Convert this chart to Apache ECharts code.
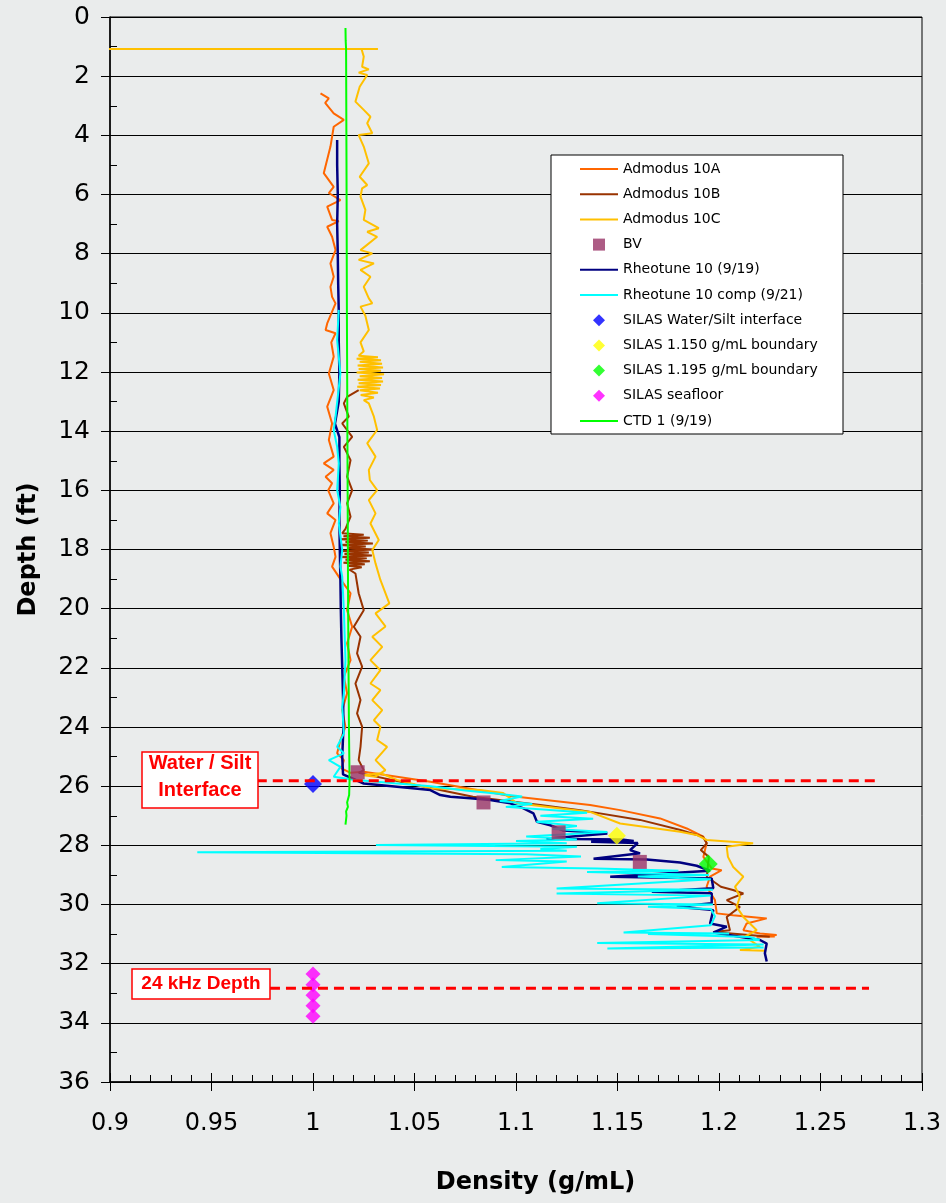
<!DOCTYPE html>
<html><head><meta charset="utf-8">
<script src="https://cdn.jsdelivr.net/npm/echarts@6/dist/echarts.min.js"></script>
<style>html,body{margin:0;padding:0;background:#eaecec}#c{width:946px;height:1203px}</style>
</head><body><div id="c"></div>
<script>
// ---- data: [density (g/mL), depth (ft)] ----
const admodus10A = [[1.0037,2.58],[1.0078,2.75],[1.0060,2.9],[1.0102,3.26],[1.0152,3.48],[1.0102,3.71],[1.0086,4.38],[1.0053,5.28],[1.0102,5.74],[1.0078,5.95],[1.0135,6.19],[1.0070,6.41],[1.0094,6.86],[1.0127,6.9],[1.0070,7.09],[1.0094,7.43],[1.0111,7.88],[1.0086,8.33],[1.0102,8.78],[1.0086,9.12],[1.0094,9.46],[1.0111,9.68],[1.0070,10.36],[1.0062,10.58],[1.0111,10.69],[1.0090,11.0],[1.0102,11.48],[1.0078,12.05],[1.0102,12.61],[1.0070,13.17],[1.0094,13.74],[1.0078,14.3],[1.0102,14.86],[1.0053,15.09],[1.0102,15.31],[1.0062,15.54],[1.0094,15.76],[1.0075,16.0],[1.0102,16.44],[1.0070,16.78],[1.0111,17.0],[1.0086,17.45],[1.0102,17.91],[1.0111,18.25],[1.0094,18.58],[1.0135,19.0],[1.0185,19.48],[1.0168,20.05],[1.0193,20.61],[1.0168,21.17],[1.0185,21.74],[1.0152,22.3],[1.0168,22.86],[1.0144,23.43],[1.0160,23.99],[1.0135,24.44],[1.0119,24.89],[1.0152,25.12],[1.0140,25.4],[1.0185,25.55],[1.0250,25.51],[1.0578,25.85],[1.0824,26.15],[1.0972,26.33],[1.1365,26.64],[1.1513,26.81],[1.1710,27.09],[1.1841,27.43],[1.1923,27.71],[1.1939,27.93],[1.1923,28.39],[1.1964,28.78],[1.2013,28.84],[1.1956,29.06],[1.1939,29.4],[1.1980,29.85],[1.1989,30.3],[1.2069,30.36],[1.2235,30.47],[1.2136,30.64],[1.2120,30.87],[1.2202,30.98],[1.2284,31.03],[1.2185,31.09],[1.2275,31.08]];

const admodus10B = [[1.0225,12.61],[1.0168,12.84],[1.0152,13.06],[1.0176,13.51],[1.0144,13.74],[1.0193,14.19],[1.0152,14.53],[1.0185,14.98],[1.0168,15.54],[1.0193,15.99],[1.0168,16.44],[1.0185,16.89],[1.0160,17.3],[1.0144,17.45],[1.0250,17.5],[1.0150,17.55],[1.0280,17.6],[1.0135,17.65],[1.0270,17.7],[1.0160,17.75],[1.0295,17.8],[1.0130,17.85],[1.0260,17.9],[1.0170,17.95],[1.0300,18.0],[1.0140,18.05],[1.0275,18.1],[1.0155,18.15],[1.0290,18.2],[1.0135,18.25],[1.0265,18.3],[1.0160,18.35],[1.0280,18.4],[1.0150,18.45],[1.0255,18.5],[1.0170,18.55],[1.0240,18.6],[1.0180,18.68],[1.0209,18.81],[1.0225,19.48],[1.0250,20.05],[1.0201,20.61],[1.0234,20.95],[1.0217,21.51],[1.0242,21.96],[1.0209,22.53],[1.0234,23.09],[1.0217,23.54],[1.0242,23.99],[1.0234,24.67],[1.0225,25.12],[1.0250,25.46],[1.0225,25.55],[1.0500,25.95],[1.0788,26.36],[1.1120,26.64],[1.1316,26.81],[1.1611,27.14],[1.1810,27.48],[1.1920,27.71],[1.1940,27.93],[1.1910,28.16],[1.1950,28.39],[1.1940,29.06],[1.2009,29.4],[1.2069,29.51],[1.2120,29.63],[1.2038,29.85],[1.2103,30.08],[1.2038,30.42],[1.2054,30.87],[1.1972,30.93],[1.2250,31.09]];

const admodus10C = [[0.897,1.08],[1.032,1.08],[1.0239,1.08],[1.0250,1.34],[1.0242,1.68],[1.0275,1.77],[1.0225,1.88],[1.0267,1.96],[1.0230,2.36],[1.0209,2.86],[1.0250,3.14],[1.0283,3.37],[1.0267,3.59],[1.0292,3.93],[1.0225,3.99],[1.0250,4.38],[1.0275,4.95],[1.0230,5.4],[1.0267,5.68],[1.0242,5.79],[1.0234,6.07],[1.0258,6.52],[1.0250,6.86],[1.0324,7.14],[1.0267,7.26],[1.0316,7.43],[1.0234,7.88],[1.0292,7.99],[1.0225,8.21],[1.0300,8.33],[1.0234,8.55],[1.0283,8.78],[1.0250,9.12],[1.0275,9.51],[1.0292,9.68],[1.0234,9.79],[1.0258,10.1],[1.0275,10.58],[1.0234,11.0],[1.0250,11.3],[1.0225,11.45],[1.0320,11.5],[1.0215,11.55],[1.0335,11.6],[1.0230,11.65],[1.0340,11.72],[1.0220,11.78],[1.0345,11.85],[1.0225,11.9],[1.0335,11.96],[1.0215,12.02],[1.0350,12.08],[1.0230,12.14],[1.0340,12.2],[1.0220,12.26],[1.0345,12.32],[1.0225,12.38],[1.0335,12.44],[1.0218,12.5],[1.0330,12.56],[1.0230,12.62],[1.0320,12.7],[1.0235,12.78],[1.0300,12.86],[1.0250,12.95],[1.0275,13.06],[1.0300,13.51],[1.0316,13.96],[1.0267,14.41],[1.0308,14.86],[1.0275,15.31],[1.0280,15.65],[1.0316,15.99],[1.0275,16.33],[1.0308,16.78],[1.0283,17.12],[1.0324,17.68],[1.0292,18.02],[1.0308,18.47],[1.0332,19.03],[1.0376,19.82],[1.0308,20.16],[1.0357,20.6],[1.0292,20.95],[1.0341,21.29],[1.0283,21.74],[1.0332,22.08],[1.0283,22.53],[1.0332,22.75],[1.0292,23.09],[1.0341,23.43],[1.0300,23.77],[1.0332,23.99],[1.0316,24.44],[1.0365,24.67],[1.0308,25.12],[1.0357,25.46],[1.0308,25.68],[1.0248,25.63],[1.0332,25.56],[1.0414,25.79],[1.0578,26.07],[1.0824,26.13],[1.0937,26.23],[1.1005,26.58],[1.1365,26.87],[1.1513,27.26],[1.1808,27.54],[1.1890,27.65],[1.1939,27.82],[1.2168,27.93],[1.2038,28.05],[1.2044,28.39],[1.2070,28.73],[1.2120,29.06],[1.2079,29.4],[1.2103,29.74],[1.2087,30.08],[1.2120,30.42],[1.2186,30.87],[1.2128,31.09],[1.2202,31.43],[1.2103,31.54],[1.2226,31.56]];

const bv = [[1.022,25.53],[1.084,26.55],[1.121,27.56],[1.161,28.56]];

const rheotune10 = [[1.0119,4.16],[1.0119,5.0],[1.0122,6.0],[1.0119,7.0],[1.0122,8.0],[1.0124,9.0],[1.0127,10.0],[1.0127,11.0],[1.0130,12.0],[1.0127,13.0],[1.0108,13.75],[1.0130,14.2],[1.0130,15.0],[1.0132,16.0],[1.0130,17.0],[1.0132,18.0],[1.0135,19.0],[1.0137,20.0],[1.0140,21.0],[1.0144,22.0],[1.0148,23.0],[1.0150,24.0],[1.0144,25.0],[1.0148,25.6],[1.0250,25.91],[1.0578,26.13],[1.0627,26.3],[1.0677,26.36],[1.0775,26.41],[1.0873,26.47],[1.0972,26.58],[1.1037,26.75],[1.1086,26.92],[1.1103,27.2],[1.1169,27.32],[1.1234,27.5],[1.1350,27.55],[1.1450,27.6],[1.1150,27.78],[1.1520,27.8],[1.1580,27.85],[1.1370,27.88],[1.1600,27.92],[1.1562,28.16],[1.1611,28.27],[1.1382,28.45],[1.1644,28.48],[1.1808,28.58],[1.1890,28.69],[1.1956,28.86],[1.1464,29.06],[1.1964,29.12],[1.1972,29.45],[1.1669,29.57],[1.1964,29.62],[1.1964,29.96],[1.1792,30.08],[1.1972,30.19],[1.1956,30.64],[1.2038,30.75],[1.1972,30.95],[1.2202,31.2],[1.2235,31.32],[1.2226,31.65],[1.2235,31.93]];

const rheotune10comp = [[1.0127,9.9],[1.0119,10.92],[1.0135,12.05],[1.0111,13.51],[1.0102,13.96],[1.0119,14.53],[1.0127,15.09],[1.0119,15.99],[1.0135,16.56],[1.0127,17.12],[1.0144,18.02],[1.0135,18.58],[1.0144,18.92],[1.0152,20.05],[1.0160,21.74],[1.0152,22.86],[1.0144,23.32],[1.0152,24.22],[1.0119,24.67],[1.0152,24.89],[1.0078,25.12],[1.0135,25.35],[1.0102,25.68],[1.0200,25.78],[1.0400,25.9],[1.0580,26.0],[1.0750,26.15],[1.0900,26.25],[1.1030,26.35],[1.0920,26.5],[1.1080,26.6],[1.0950,26.7],[1.1150,26.8],[1.1350,26.9],[1.1120,27.0],[1.1380,27.1],[1.1100,27.2],[1.1300,27.35],[1.1180,27.45],[1.1450,27.55],[1.1050,27.7],[1.1300,27.8],[1.1000,27.85],[1.1250,27.93],[1.0310,27.99],[1.1300,28.05],[1.1120,28.12],[1.1250,28.18],[0.9430,28.23],[1.1050,28.3],[1.1320,28.38],[1.0900,28.5],[1.1250,28.55],[1.0930,28.73],[1.1400,28.78],[1.1800,28.86],[1.1350,28.9],[1.1950,29.0],[1.1600,29.05],[1.1960,29.15],[1.1200,29.46],[1.1970,29.5],[1.1200,29.63],[1.1960,29.7],[1.1400,29.96],[1.1970,30.0],[1.1650,30.08],[1.1960,30.15],[1.1980,30.4],[1.1960,30.7],[1.1530,30.95],[1.2050,30.98],[1.1650,31.0],[1.2150,31.1],[1.2200,31.2],[1.1400,31.3],[1.2220,31.35],[1.1450,31.49],[1.2220,31.45]];

const silasWaterSilt = [[1.0,25.93]];
const silas1150 = [[1.1497,27.68]];
const silas1195 = [[1.1947,28.63]];
const silasSeafloor = [[1.0,32.35],[1.0,32.71],[1.0,33.07],[1.0,33.42],[1.0,33.78]];

const ctd1 = [[1.0160,0.37],[1.0161,0.8],[1.0163,1.1],[1.0165,5],[1.0167,10],[1.0170,15],[1.0173,20],[1.0177,24],[1.0180,25.8],[1.0178,26.3],[1.0168,26.55],[1.0172,26.7],[1.0163,26.85],[1.0165,27.0],[1.0160,27.3]];

const waterSiltLine = [[0.9723,25.82],[1.2795,25.82]];
const khzLine = [[0.9788,32.83],[1.2739,32.83]];

const legendNames = ['Admodus 10A','Admodus 10B','Admodus 10C','BV','Rheotune 10 (9/19)','Rheotune 10 comp (9/21)','SILAS Water/Silt interface','SILAS 1.150 g/mL boundary','SILAS 1.195 g/mL boundary','SILAS seafloor','CTD 1 (9/19)'];
const legendKinds = ['line','line','line','square','line','line','diamond','diamond','diamond','diamond','line'];
const xMin = 0.9, xMax = 1.3, xStep = 0.05;
const yMin = 0, yMax = 36, yStep = 2;

// ---- chart ----
const chart = echarts.init(document.getElementById('c'));
const tickFont = 'DejaVu Sans';
function lineS(name, data, color, width, extra) {
  return Object.assign({ name, type: 'line', data, symbol: 'none', clip: true,
    lineStyle: { color, width }, itemStyle: { color }, z: 2, animation: false }, extra || {});
}
function scatS(name, data, color, symbol, size) {
  return { name, type: 'scatter', data, symbol, symbolSize: size,
    itemStyle: { color }, z: 4, animation: false };
}
// legend icon shapes inside a 38x12 box (corner moves keep the box size)
const ICONS = {
  line: 'path://M0,0M38,12M0,5L38,5L38,7L0,7Z',
  square: 'path://M0,0M38,12M13,0L25,0L25,12L13,12Z',
  diamond: 'path://M0,0M38,12M19,0L25,6L19,12L13,6Z'
};
const series = [
  lineS('Admodus 10A', admodus10A, '#FF6600', 2),
  lineS('Admodus 10B', admodus10B, '#993300', 2),
  lineS('Admodus 10C', admodus10C, '#FFC000', 2, { clip: false }),
  lineS('Rheotune 10 (9/19)', rheotune10, '#000080', 2.5),
  lineS('Rheotune 10 comp (9/21)', rheotune10comp, '#00FFFF', 2),
  lineS('CTD 1 (9/19)', ctd1, '#00FF00', 2),
  scatS('BV', bv, '#993366', 'rect', 14),
  scatS('SILAS Water/Silt interface', silasWaterSilt, '#0000FF', 'diamond', 18),
  scatS('SILAS 1.150 g/mL boundary', silas1150, '#FFFF00', 'diamond', 18),
  scatS('SILAS 1.195 g/mL boundary', silas1195, '#00FF00', 'diamond', 19),
  scatS('SILAS seafloor', silasSeafloor, '#FF00FF', 'diamond', 15),
  { type: 'line', data: waterSiltLine, symbol: 'none', silent: true, z: 6, animation: false,
    lineStyle: { color: '#FF0000', width: 3, type: [10, 6] } },
  { type: 'line', data: khzLine, symbol: 'none', silent: true, z: 6, animation: false,
    lineStyle: { color: '#FF0000', width: 3, type: [10, 6] } }
];
const fmtX = v => String(+(+v).toFixed(2));
chart.setOption({
  backgroundColor: '#eaecec',
  animation: false,
  grid: { left: 110, right: 24, top: 17, bottom: 121, show: true, borderColor: '#000', borderWidth: 1, backgroundColor: 'transparent' },
  xAxis: [
    { type: 'value', min: xMin, max: xMax, interval: xStep, position: 'bottom',
      axisLine: { show: true, onZero: false, lineStyle: { color: '#000', width: 1.5 } },
      axisTick: { show: true, inside: true, length: 9, lineStyle: { color: '#000', width: 1 } },
      minorTick: { show: true, splitNumber: 5, length: 7, lineStyle: { color: '#000', width: 1 } },
      axisLabel: { margin: 30, fontSize: 24, fontFamily: tickFont, color: '#000', formatter: fmtX },
      splitLine: { show: false }, minorSplitLine: { show: false },
      name: 'Density (g/mL)', nameLocation: 'middle', nameGap: 89,
      nameTextStyle: { fontFamily: tickFont, fontWeight: 'bold', fontSize: 24, color: '#000', padding: [0, 0, 0, 39] } },
    { type: 'value', min: xMin, max: xMax, interval: xStep, position: 'bottom',
      axisLine: { show: false, onZero: false },
      axisTick: { show: true, inside: false, length: 9, lineStyle: { color: '#000', width: 1 } },
      axisLabel: { show: false }, splitLine: { show: false } }
  ],
  yAxis: [
    { type: 'value', inverse: true, min: yMin, max: yMax, interval: yStep, position: 'left',
      axisLine: { show: true, onZero: false, lineStyle: { color: '#000', width: 1.5 } },
      axisTick: { show: true, inside: false, length: 9, lineStyle: { color: '#000', width: 1 } },
      axisLabel: { margin: 20, fontSize: 25, fontFamily: tickFont, color: '#000' },
      splitLine: { show: true, lineStyle: { color: '#000', width: 1 } },
      name: 'Depth (ft)', nameLocation: 'middle', nameGap: 69,
      nameTextStyle: { fontFamily: tickFont, fontWeight: 'bold', fontSize: 24, color: '#000' } },
    { type: 'value', inverse: true, min: yMin, max: yMax, interval: 1, position: 'left',
      axisLine: { show: false, onZero: false },
      axisTick: { show: true, inside: true, length: 7, lineStyle: { color: '#000', width: 1 } },
      axisLabel: { show: false }, splitLine: { show: false } }
  ],
  legend: {
    data: legendNames.map((n, i) => ({ name: n, icon: ICONS[legendKinds[i]] })),
    orient: 'vertical', left: 575, top: 157, padding: 5,
    itemWidth: 38, itemHeight: 12, itemGap: 11.2, selectedMode: false, z: 10,
    textStyle: { fontFamily: tickFont, fontSize: 14, color: '#000' }
  },
  graphic: [
    { type: 'rect', z: 5, shape: { x: 551, y: 155, width: 292, height: 279 },
      style: { fill: '#ffffff', stroke: '#000000', lineWidth: 1 } },
    { type: 'rect', z: 30, shape: { x: 142, y: 752, width: 116, height: 56 },
      style: { fill: '#ffffff', stroke: '#FF0000', lineWidth: 1.5 } },
    { type: 'text', z: 31, x: 200, y: 777,
      style: { text: 'Water / Silt\nInterface', fill: '#FF0000', fontFamily: 'Liberation Sans', fontWeight: 'bold', fontSize: 20, lineHeight: 27, align: 'center', verticalAlign: 'middle' } },
    { type: 'rect', z: 30, shape: { x: 132, y: 969, width: 138, height: 30 },
      style: { fill: '#ffffff', stroke: '#FF0000', lineWidth: 1.5 } },
    { type: 'text', z: 31, x: 201, y: 984,
      style: { text: '24 kHz Depth', fill: '#FF0000', fontFamily: 'Liberation Sans', fontWeight: 'bold', fontSize: 19, align: 'center', verticalAlign: 'middle' } }
  ],
  series
});
</script></body></html>
